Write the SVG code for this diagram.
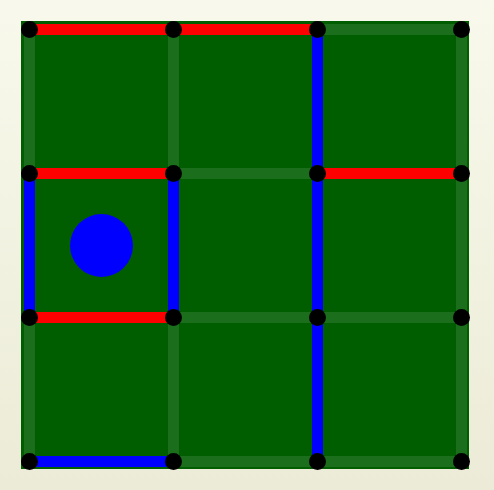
<svg xmlns="http://www.w3.org/2000/svg" width="494" height="490" viewBox="0 0 494 490">
<defs>
<linearGradient id="bg" x1="0" y1="0" x2="0" y2="1">
<stop offset="0" stop-color="#f8f9ec"/>
<stop offset="1" stop-color="#ecebd7"/>
</linearGradient>
</defs>
<style>
.grid{stroke:#1b6e1b;stroke-width:11;stroke-linecap:butt}
.red{stroke:#ff0000;stroke-width:11}
.blue{stroke:#0000ff;stroke-width:11}
.dot{fill:#000}
</style>
<rect x="0" y="0" width="494" height="490" fill="url(#bg)"/>
<rect id="board" x="21" y="21" width="448" height="448" fill="#005e00"/>
<g id="connectors">
<g class="grid">
<line x1="29.5" y1="29.5" x2="29.5" y2="461.5"/>
<line x1="173.5" y1="29.5" x2="173.5" y2="461.5"/>
<line x1="317.5" y1="29.5" x2="317.5" y2="461.5"/>
<line x1="461.5" y1="29.5" x2="461.5" y2="461.5"/>
<line x1="29.5" y1="29.5" x2="461.5" y2="29.5"/>
<line x1="29.5" y1="173.5" x2="461.5" y2="173.5"/>
<line x1="29.5" y1="317.5" x2="461.5" y2="317.5"/>
<line x1="29.5" y1="461.5" x2="461.5" y2="461.5"/>
</g>
<g class="red">
<line x1="29.5" y1="29.5" x2="317.5" y2="29.5"/>
<line x1="29.5" y1="173.5" x2="173.5" y2="173.5"/>
<line x1="317.5" y1="173.5" x2="461.5" y2="173.5"/>
<line x1="29.5" y1="317.5" x2="173.5" y2="317.5"/>
</g>
<g class="blue">
<line x1="317.5" y1="29.5" x2="317.5" y2="461.5"/>
<line x1="29.5" y1="173.5" x2="29.5" y2="317.5"/>
<line x1="173.5" y1="173.5" x2="173.5" y2="317.5"/>
<line x1="29.5" y1="461.5" x2="173.5" y2="461.5"/>
</g>
</g>
<g id="dots" class="dot">
<circle id="d00" cx="29.5" cy="29.5" r="8.5"/>
<circle id="d10" cx="173.5" cy="29.5" r="8.5"/>
<circle id="d20" cx="317.5" cy="29.5" r="8.5"/>
<circle id="d30" cx="461.5" cy="29.5" r="8.5"/>
<circle id="d01" cx="29.5" cy="173.5" r="8.5"/>
<circle id="d11" cx="173.5" cy="173.5" r="8.5"/>
<circle id="d21" cx="317.5" cy="173.5" r="8.5"/>
<circle id="d31" cx="461.5" cy="173.5" r="8.5"/>
<circle id="d02" cx="29.5" cy="317.5" r="8.5"/>
<circle id="d12" cx="173.5" cy="317.5" r="8.5"/>
<circle id="d22" cx="317.5" cy="317.5" r="8.5"/>
<circle id="d32" cx="461.5" cy="317.5" r="8.5"/>
<circle id="d03" cx="29.5" cy="461.5" r="8.5"/>
<circle id="d13" cx="173.5" cy="461.5" r="8.5"/>
<circle id="d23" cx="317.5" cy="461.5" r="8.5"/>
<circle id="d33" cx="461.5" cy="461.5" r="8.5"/>
</g>
<g id="player"><circle cx="101.5" cy="245.5" r="31.5" fill="#0000ff"/></g>
</svg>
